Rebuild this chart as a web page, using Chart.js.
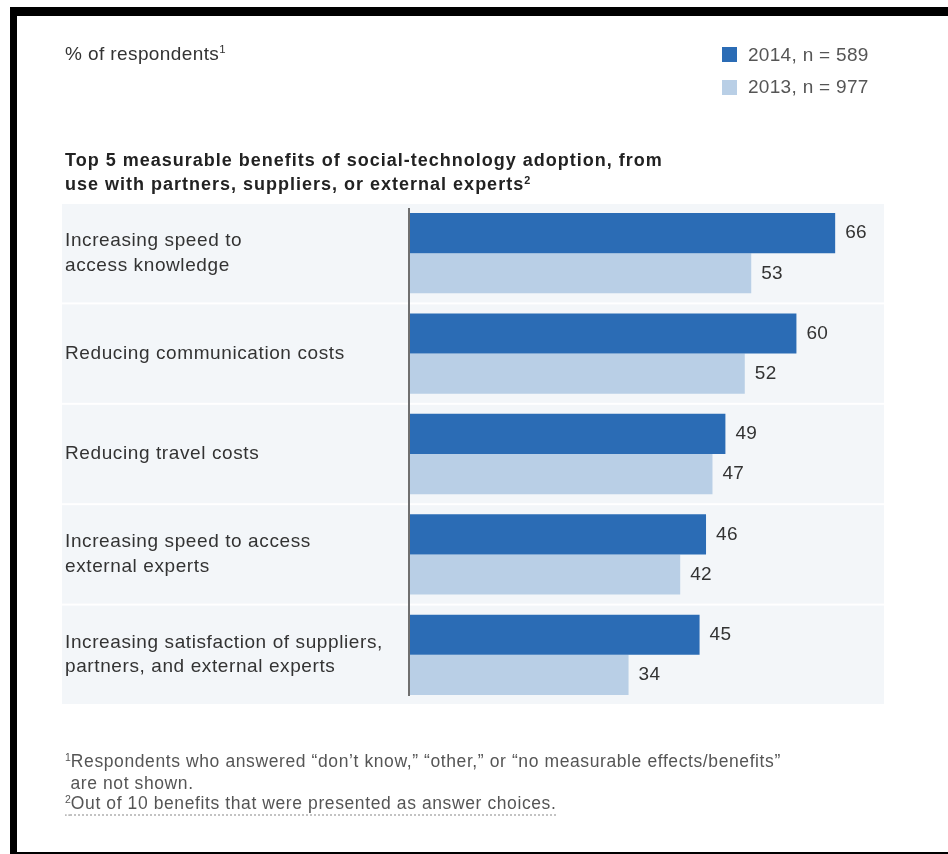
<!DOCTYPE html>
<html>
<head>
<meta charset="utf-8">
<script src="https://cdn.jsdelivr.net/npm/chart.js@4"></script>
<style>
  body { margin: 0; background: #fff; font-family: 'Liberation Sans', Arial, sans-serif; }
  #wrap { position: relative; width: 948px; height: 854px; overflow: hidden; }
  #chart-box { position: absolute; left: 0; top: 0; width: 948px; height: 854px; }
  .frame { position: absolute; left: 10px; top: 7px; width: 938px; height: 847px; box-sizing: border-box;
    border-top: 9px solid #000; border-left: 7px solid #000; border-bottom: 2px solid #000; }
  .txt { position: absolute; color: #333; white-space: nowrap; }
  sup { font-size: 60%; vertical-align: 0; position: relative; top: -0.6em; letter-spacing: 0; }
  .sw { position: absolute; width: 15px; height: 15px; }
</style>
</head>
<body>
<div id="wrap">
  <div id="chart-box"><canvas id="benefitsChart"></canvas></div>
  <div class="frame"></div>
  <div class="txt" style="left:65px; top:43px; font-size:19px; letter-spacing:0.4px;">% of respondents<sup>1</sup></div>
  <div class="sw" style="left:722px; top:47px; background:#2b6cb5;"></div>
  <div class="txt" style="left:748px; top:44px; font-size:19px; letter-spacing:0.3px; color:#555;" id="leg1"></div>
  <div class="sw" style="left:722px; top:80px; background:#b9cfe6;"></div>
  <div class="txt" style="left:748px; top:76px; font-size:19px; letter-spacing:0.3px; color:#555;" id="leg2"></div>
  <div class="txt" style="left:65px; top:148px; font-size:18px; font-weight:bold; line-height:24px; letter-spacing:1px; color:#222;">
    Top 5 measurable benefits of social-technology adoption, from<br>use with partners, suppliers, or external experts<sup>2</sup>
  </div>
  <div class="txt" style="left:65px; top:751px; font-size:17.5px; line-height:20px; letter-spacing:0.6px; color:#555;">
    <sup>1</sup>Respondents who answered “don’t know,” “other,” or “no measurable effects/benefits”<br>
    &nbsp;are not shown.<br>
    <span style="text-decoration: underline dotted #bbb; text-underline-offset: 6px;"><sup>2</sup>Out of 10 benefits that were presented as answer choices.</span>
  </div>
</div>
<script>
const categories = [
  ['Increasing speed to', 'access knowledge'],
  'Reducing communication costs',
  'Reducing travel costs',
  ['Increasing speed to access', 'external experts'],
  ['Increasing satisfaction of suppliers,', 'partners, and external experts'],
];
const seriesNames = ['2014, n = 589', '2013, n = 977'];
const values2014 = [66, 60, 49, 46, 45];
const values2013 = [53, 52, 47, 42, 34];

document.getElementById('leg1').textContent = seriesNames[0];
document.getElementById('leg2').textContent = seriesNames[1];

// grey row bands behind each category (drawn before the scales)
const rowBands = {
  id: 'rowBands',
  beforeDraw(chart) {
    const { ctx } = chart;
    const y = chart.scales.y;
    const step = y.height / categories.length;
    ctx.save();
    ctx.fillStyle = '#f3f6f9';
    categories.forEach((c, i) => {
      const mid = y.getPixelForValue(i);
      ctx.fillRect(62, mid - step / 2 + 1, 822, step - 2);
    });
    ctx.restore();
    ctx.letterSpacing = '0.6px';
  },
};

// axis line and value labels
const barLabels = {
  id: 'barLabels',
  afterDatasetsDraw(chart) {
    const { ctx, chartArea } = chart;
    ctx.save();
    ctx.strokeStyle = '#6f6f6f';
    ctx.lineWidth = 2;
    ctx.beginPath();
    ctx.moveTo(chartArea.left, chartArea.top + 5);
    ctx.lineTo(chartArea.left, chartArea.bottom - 9);
    ctx.stroke();
    ctx.font = '19px "Liberation Sans", Arial, sans-serif';
    ctx.letterSpacing = '0.3px';
    ctx.fillStyle = '#333';
    ctx.textBaseline = 'middle';
    chart.data.datasets.forEach((ds, di) => {
      chart.getDatasetMeta(di).data.forEach((el, i) => {
        ctx.fillText(ds.data[i], el.x + 10, el.y);
      });
    });
    ctx.restore();
  },
};

new Chart(document.getElementById('benefitsChart'), {
  type: 'bar',
  data: {
    labels: categories,
    datasets: [
      { label: seriesNames[0], data: values2014, backgroundColor: '#2b6cb5' },
      { label: seriesNames[1], data: values2013, backgroundColor: '#b9cfe6' },
    ],
  },
  options: {
    indexAxis: 'y',
    responsive: true,
    maintainAspectRatio: false,
    animation: false,
    categoryPercentage: 0.8,
    barPercentage: 1.0,
    layout: { padding: { left: 65, right: 87, top: 203, bottom: 149 } },
    plugins: { legend: { display: false }, tooltip: { enabled: false } },
    scales: {
      x: { display: false, min: 0, max: 70 },
      y: {
        grid: { display: false },
        border: { display: false },
        afterFit(scale) { scale.width = 344; },
        ticks: {
          crossAlign: 'far',
          color: '#333',
          font: { family: '"Liberation Sans", Arial, sans-serif', size: 19, lineHeight: 1.3 },
        },
      },
    },
  },
  plugins: [rowBands, barLabels],
});
</script>
</body>
</html>
